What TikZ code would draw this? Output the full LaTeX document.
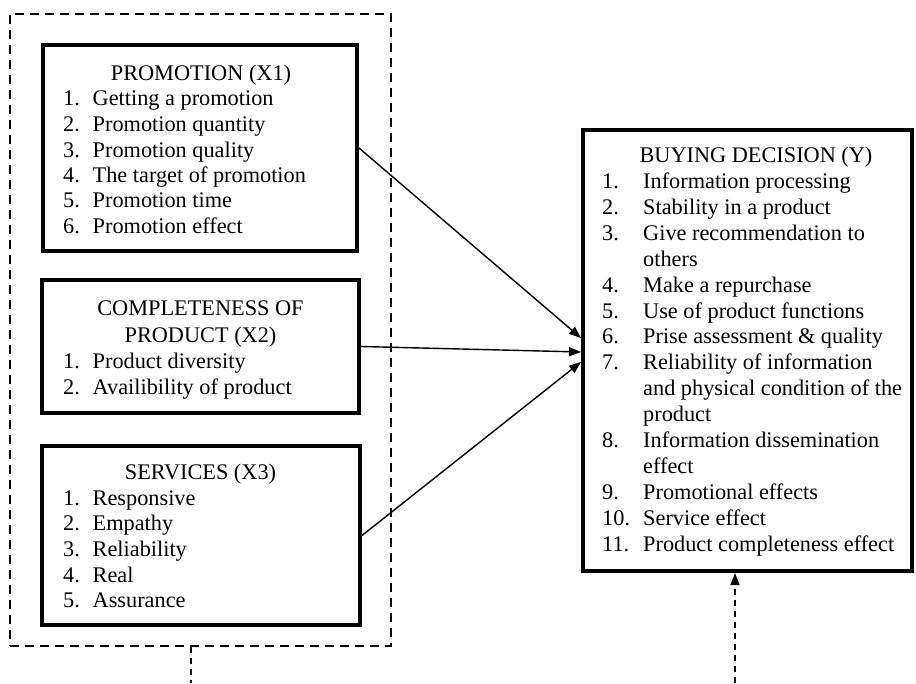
\documentclass[tikz,border=0pt]{standalone}
\usepackage{fontspec}
\setmainfont{Liberation Serif}
\usetikzlibrary{arrows.meta}
\begin{document}
\begin{tikzpicture}[x=1pt,y=-1pt,
  box/.style={draw, line width=4pt, inner sep=0pt},
  txt/.style={font=\fontsize{22.3}{26}\selectfont, inner sep=0pt, anchor=base west},
  ttl/.style={font=\fontsize{22.3}{26}\selectfont, inner sep=0pt, anchor=base},
  link/.style={line width=1.4pt, -{Triangle[length=12pt,width=9pt]}},
  grpbox/.style={draw, line width=2.2pt, dash pattern=on 9pt off 6pt, inner sep=0pt},
  dline/.style={line width=1.6pt, dash pattern=on 6pt off 5pt}]
\useasboundingbox (0,0) rectangle (916,683);

% outer dashed group
\node[grpbox, minimum width=381pt, minimum height=632pt] (grp) at (200.5,330) {};

% boxes
\node[box, minimum width=314pt, minimum height=206pt] (x1) at (200,148) {};
\node[box, minimum width=317pt, minimum height=133pt] (x2) at (200.5,346.5) {};
\node[box, minimum width=318pt, minimum height=179pt] (x3) at (201,535.5) {};
\node[box, minimum width=329pt, minimum height=441pt] (yb) at (747.5,350.5) {};

% titles
\node[ttl] (x1title) at (201,80) {PROMOTION (X1)};
\node[ttl] (x2title) at (200.5,315) {COMPLETENESS OF};
\node[ttl] (x2title2) at (200.5,342) {PRODUCT (X2)};
\node[ttl] (x3title) at (200.5,479) {SERVICES (X3)};
\node[ttl] (ytitle) at (756,162) {BUYING DECISION (Y)};

% X1 items
\foreach \n/\t/\yy [count=\i] in {1./Getting a promotion/105, 2./Promotion quantity/131, 3./Promotion quality/157, 4./The target of promotion/182, 5./Promotion time/207, 6./Promotion effect/233} {
  \node[txt] (x1n\i) at (63,\yy) {\n};
  \node[txt] (x1t\i) at (92.5,\yy) {\t};
}
% X2 items
\foreach \n/\t/\yy [count=\i] in {1./Product diversity/368, 2./Availibility of product/394} {
  \node[txt] (x2n\i) at (63,\yy) {\n};
  \node[txt] (x2t\i) at (92.5,\yy) {\t};
}
% X3 items
\foreach \n/\t/\yy [count=\i] in {1./Responsive/505, 2./Empathy/530, 3./Reliability/556, 4./Real/582, 5./Assurance/607} {
  \node[txt] (x3n\i) at (63,\yy) {\n};
  \node[txt] (x3t\i) at (92.5,\yy) {\t};
}
% Y numbers
\foreach \n/\yy [count=\i] in {1./188, 2./214, 3./240, 4./292, 5./318, 6./343, 7./369, 8./447, 9./499, 10./525, 11./551} {
  \node[txt] (yn\i) at (602,\yy) {\n};
}
% Y texts
\foreach \t/\yy [count=\i] in {Information processing/188, Stability in a product/214, Give recommendation to/240, others/266, Make a repurchase/292, Use of product functions/318, Prise assessment \& quality/343, Reliability of information/369, and physical condition of the/395, product/421, Information dissemination/447, effect/473, Promotional effects/499, Service effect/525, Product completeness effect/551} {
  \node[txt] (yt\i) at (643,\yy) {\t};
}

% connectors
\draw[link] (x1.east) -- ([yshift=12.5pt]yb.west);
\draw[link] (x2.east) -- ([yshift=-1.5pt]yb.west);
\draw[link] (x3.east) -- ([yshift=-11.5pt]yb.west);

\coordinate (gout) at (191,683);
\draw[dline] (grp.south -| gout) -- (gout);
\coordinate (yin) at (735,683);
\draw[dline, -{Triangle[length=12pt,width=9pt]}] (yin) -- (yin |- yb.south);
\end{tikzpicture}
\end{document}
